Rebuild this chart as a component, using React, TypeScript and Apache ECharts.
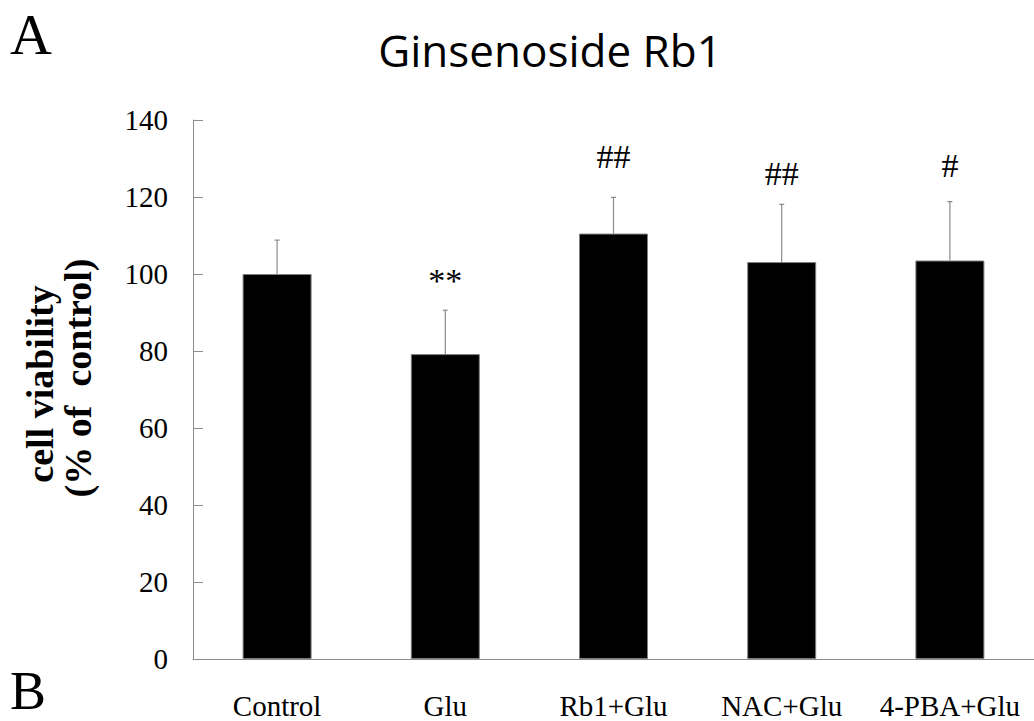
import React, { useEffect, useRef } from "react";
import * as echarts from "echarts";

const categories = ["Control", "Glu", "Rb1+Glu", "NAC+Glu", "4-PBA+Glu"];
const means = [100, 79.2, 110.5, 103.1, 103.5];
const sds = [8.8, 11.4, 9.4, 15.0, 15.3];
const marks = ["", "**", "##", "##", "#"];
const markHeights = [0, 98.2, 130.6, 126.2, 128.3];
const yTicks = { min: 0, max: 140, interval: 20 };

const SERIF = "'Liberation Serif', 'Times New Roman', serif";

export default function App() {
  const ref = useRef<HTMLDivElement>(null);
  useEffect(() => {
    if (!ref.current) return;
    const chart = echarts.init(ref.current, null, { renderer: "svg" });
    const errData = categories.map((c, i) => [i, means[i], means[i] + sds[i]]);
    const markData = categories.map((c, i) => [i, markHeights[i], marks[i]]);
    chart.setOption({
      animation: false,
      backgroundColor: "#ffffff",
      grid: { left: 193, top: 120, height: 539, width: 845 },
      xAxis: {
        type: "category",
        data: categories,
        boundaryGap: true,
        axisLine: { lineStyle: { color: "#8c8c8c", width: 1 } },
        axisTick: { inside: true, length: 10, lineStyle: { color: "#8c8c8c" } },
        axisLabel: { interval: 0, color: "#000", fontFamily: SERIF, fontSize: 29, margin: 32, hideOverlap: false },
        splitLine: { show: false },
      },
      yAxis: {
        type: "value",
        min: yTicks.min,
        max: yTicks.max,
        interval: yTicks.interval,
        axisLine: { show: true, lineStyle: { color: "#8c8c8c", width: 1 } },
        axisTick: { show: true, inside: true, length: 10, lineStyle: { color: "#8c8c8c" } },
        axisLabel: { color: "#000", fontFamily: SERIF, fontSize: 29, margin: 25 },
        splitLine: { show: false },
      },
      series: [
        {
          type: "bar",
          data: means,
          barWidth: 69,
          itemStyle: { color: "#000", borderColor: "#7f7f7f", borderWidth: 1 },
          z: 2,
        },
        {
          type: "custom",
          data: errData,
          z: 3,
          renderItem: (params: any, api: any) => {
            const base = api.coord([api.value(0), api.value(1)]);
            const top = api.coord([api.value(0), api.value(2)]);
            const stroke = "#8a8a8a";
            return {
              type: "group",
              children: [
                { type: "line", shape: { x1: base[0], y1: base[1], x2: base[0], y2: top[1] }, style: { stroke, lineWidth: 1.2 } },
                { type: "line", shape: { x1: base[0] - 2.5, y1: top[1], x2: base[0] + 2.5, y2: top[1] }, style: { stroke, lineWidth: 1.2 } },
              ],
            };
          },
        },
        {
          type: "custom",
          data: markData,
          z: 4,
          renderItem: (params: any, api: any) => {
            const i = params.dataIndex;
            const p = api.coord([api.value(0), api.value(1)]);
            return {
              type: "text",
              x: p[0],
              y: p[1],
              style: {
                text: marks[i],
                fontFamily: SERIF,
                fontSize: 34,
                fill: "#000",
                textAlign: "center",
                textVerticalAlign: "middle",
              },
            };
          },
        },
      ],
      graphic: [
        { type: "text", x: 31, y: 34, style: { text: "A", fontFamily: SERIF, fontSize: 58, lineHeight: 50, fill: "#000", textAlign: "center", textVerticalAlign: "middle" } },
        { type: "text", x: 28, y: 691, style: { text: "B", fontFamily: SERIF, fontSize: 54, lineHeight: 42, fill: "#000", textAlign: "center", textVerticalAlign: "middle" } },
        {
          type: "text",
          x: 550,
          y: 50,
          style: { text: "Ginsenoside Rb1", fontFamily: "'Open Sans', sans-serif", fontSize: 44, fill: "#000", textAlign: "center", textVerticalAlign: "middle" },
        },
        {
          type: "text",
          x: 40,
          y: 384,
          rotation: Math.PI / 2,
          style: { text: "cell viability", fontFamily: SERIF, fontWeight: "bold", fontSize: 38, fill: "#000", textAlign: "center", textVerticalAlign: "middle" },
        },
        {
          type: "text",
          x: 78,
          y: 378,
          rotation: Math.PI / 2,
          style: { text: "(% of  control)", fontFamily: SERIF, fontWeight: "bold", fontSize: 38, fill: "#000", textAlign: "center", textVerticalAlign: "middle" },
        },
      ],
    });
    return () => chart.dispose();
  }, []);
  return (
    <div
      ref={ref}
      style={{ position: "absolute", left: 0, top: 0, width: 1034, height: 721 }}
    />
  );
}
